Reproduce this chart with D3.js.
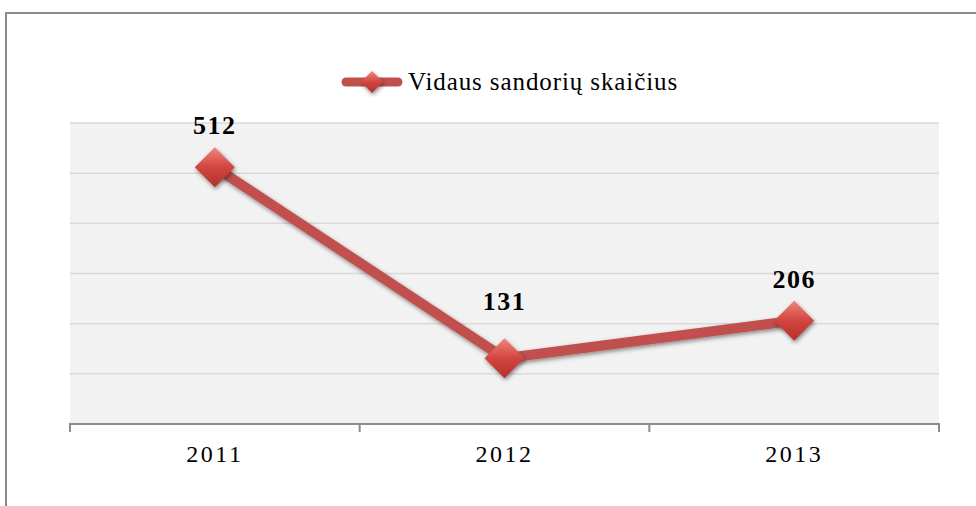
<!DOCTYPE html>
<html>
<head>
<meta charset="utf-8">
<script src="https://cdn.jsdelivr.net/npm/d3@7"></script>
<style>
  body { margin: 0; background: #fff; }
  #chart { width: 976px; height: 506px; }
  #chart text { font-family: "Liberation Serif", "Times New Roman", Tinos, "DejaVu Serif", serif; }
</style>
</head>
<body>
<div id="chart"></div>
<script>
const years = ["2011", "2012", "2013"];
const counts = [512, 131, 206];
const yTicks = [0, 100, 200, 300, 400, 500, 600];
const seriesName = "Vidaus sandorių skaičius";

const width = 976, height = 506;
const plot = { left: 70, right: 939, top: 123, bottom: 424 };
const lineColor = "#c0504d";

const svg = d3.select("#chart")
    .append("svg")
    .attr("width", width)
    .attr("height", height);

const defs = svg.append("defs");
const grad = defs.append("linearGradient")
    .attr("id", "markerFill")
    .attr("x1", "0").attr("y1", "0").attr("x2", "0").attr("y2", "1");
grad.append("stop").attr("offset", "0%").attr("stop-color", "#f08580");
grad.append("stop").attr("offset", "50%").attr("stop-color", "#d2453f");
grad.append("stop").attr("offset", "100%").attr("stop-color", "#b3302c");

const shadow = defs.append("filter").attr("id", "shadow")
    .attr("x", "-50%").attr("y", "-50%").attr("width", "200%").attr("height", "200%");
shadow.append("feDropShadow")
    .attr("dx", 1).attr("dy", 2).attr("stdDeviation", 2)
    .attr("flood-color", "#000").attr("flood-opacity", 0.45);

// outer frame
svg.append("rect")
    .attr("x", 6).attr("y", 13)
    .attr("width", 990).attr("height", 520)
    .attr("fill", "none")
    .attr("stroke", "#8c8c8c")
    .attr("stroke-width", 2);

// plot background
svg.append("rect")
    .attr("x", plot.left).attr("y", plot.top)
    .attr("width", plot.right - plot.left)
    .attr("height", plot.bottom - plot.top)
    .attr("fill", "#f2f2f2");

const x = d3.scaleBand()
    .domain(years)
    .range([plot.left, plot.right]);

const y = d3.scaleLinear()
    .domain([0, 600])
    .range([plot.bottom, plot.top]);

// gridlines
svg.append("g")
    .selectAll("line")
    .data(yTicks.slice(1))
    .join("line")
    .attr("x1", plot.left).attr("x2", plot.right)
    .attr("y1", d => y(d)).attr("y2", d => y(d))
    .attr("stroke", "#d9d9d9")
    .attr("stroke-width", 1.5);

// x axis
const xAxis = svg.append("g")
    .attr("transform", "translate(0," + plot.bottom + ")")
    .call(d3.axisBottom(x).tickSize(0).tickPadding(21));
xAxis.select(".domain")
    .attr("stroke", "#8c8c8c")
    .attr("stroke-width", 2)
    .attr("d", "M" + plot.left + ",8V0H" + plot.right + "V8");
xAxis.selectAll(".tick text")
    .attr("font-size", 24)
    .attr("letter-spacing", 2.5)
    .attr("fill", "#000");
// category boundary ticks
xAxis.append("g")
    .selectAll("line")
    .data(years.slice(1))
    .join("line")
    .attr("x1", d => x(d)).attr("x2", d => x(d))
    .attr("y1", 0).attr("y2", 8)
    .attr("stroke", "#8c8c8c")
    .attr("stroke-width", 2);

const cx = d => x(d) + x.bandwidth() / 2;
const pts = years.map((yr, i) => ({ year: yr, value: counts[i] }));

const line = d3.line()
    .x(d => cx(d.year))
    .y(d => y(d.value));

svg.append("path")
    .datum(pts)
    .attr("d", line)
    .attr("fill", "none")
    .attr("stroke", lineColor)
    .attr("stroke-width", 10)
    .attr("stroke-linejoin", "round")
    .attr("filter", "url(#shadow)");

const diamond = r => "M0," + (-r) + "L" + r + ",0L0," + r + "L" + (-r) + ",0Z";

svg.append("g")
    .selectAll("path")
    .data(pts)
    .join("path")
    .attr("transform", d => "translate(" + cx(d.year) + "," + y(d.value) + ")")
    .attr("d", diamond(20))
    .attr("fill", "url(#markerFill)")
    .attr("filter", "url(#shadow)");

// data labels: placed above the marker, pushed further up at a local minimum
svg.append("g")
    .selectAll("text")
    .data(pts)
    .join("text")
    .attr("x", d => cx(d.year))
    .attr("y", (d, i) => {
        const prev = pts[i - 1], next = pts[i + 1];
        const valley = prev && next && prev.value > d.value && next.value > d.value;
        return y(d.value) - (valley ? 48 : 33);
    })
    .attr("text-anchor", "middle")
    .attr("font-weight", "bold")
    .attr("font-size", 26)
    .attr("letter-spacing", 1.5)
    .text(d => d.value);

// legend
const lg = svg.append("g").attr("transform", "translate(372,82)");
lg.append("line")
    .attr("x1", -26).attr("x2", 26)
    .attr("stroke", lineColor)
    .attr("stroke-width", 9)
    .attr("stroke-linecap", "round");
lg.append("path")
    .attr("d", diamond(11))
    .attr("fill", "url(#markerFill)")
    .attr("filter", "url(#shadow)");
lg.append("text")
    .attr("x", 36)
    .attr("y", 8)
    .attr("font-size", 25)
    .attr("letter-spacing", 0.9)
    .text(seriesName);
</script>
</body>
</html>
